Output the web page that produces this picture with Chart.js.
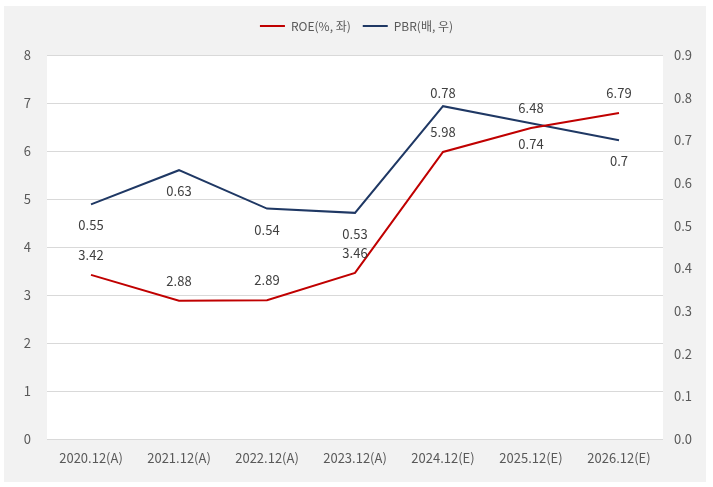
<!DOCTYPE html>
<html>
<head>
<meta charset="utf-8">
<script src="https://cdn.jsdelivr.net/npm/chart.js@4"></script>
<style>
body { margin: 0; background: #fff; }
#wrap { width: 713px; height: 487px; }
</style>
</head>
<body>
<div id="wrap"><canvas id="lineChart" width="713" height="487"></canvas></div>
<script>
var categorias = ['2020.12(A)', '2021.12(A)', '2022.12(A)', '2023.12(A)', '2024.12(E)', '2025.12(E)', '2026.12(E)'];
var roe = [3.42, 2.88, 2.89, 3.46, 5.98, 6.48, 6.79];
var pbr = [0.55, 0.63, 0.54, 0.53, 0.78, 0.74, 0.70];
var ticksEsquerda = [0, 1, 2, 3, 4, 5, 6, 7, 8];
var ticksDireita = [0, 0.1, 0.2, 0.3, 0.4, 0.5, 0.6, 0.7, 0.8, 0.9];

// onde fica o rótulo de cada ponto (acima / abaixo)
var posRoe = ['acima', 'acima', 'acima', 'acima', 'acima', 'acima', 'acima'];
var posPbr = ['abaixo', 'abaixo', 'abaixo', 'abaixo', 'acima', 'abaixo', 'abaixo'];

var fonte = "'Noto Sans CJK KR', 'Noto Sans', sans-serif";
var corTexto = '#595959';

// fundo cinza e área do gráfico branca
const fundo = {
    id: 'fundo',
    beforeDraw: function (chart) {
        const ctx = chart.ctx;
        const a = chart.chartArea;
        ctx.save();
        ctx.fillStyle = '#ffffff';
        ctx.fillRect(0, 0, chart.width, chart.height);
        ctx.fillStyle = '#f2f2f2';
        ctx.fillRect(4, 6, 702, 476);
        ctx.fillStyle = '#ffffff';
        ctx.fillRect(a.left, a.top, a.right - a.left, a.bottom - a.top);
        ctx.restore();
    }
};

// legenda mais alta, para a área começar mais abaixo
const alturaLegenda = {
    id: 'alturaLegenda',
    afterInit: function (chart) {
        const leg = chart.legend;
        if (!leg) return;
        const fitOrig = leg.fit.bind(leg);
        leg.fit = function () {
            fitOrig();
            leg.height = 47;
        };
    }
};

// rótulos de valor
const rotulos = {
    id: 'rotulos',
    afterDatasetsDraw: function (chart) {
        const ctx = chart.ctx;
        ctx.save();
        ctx.font = '13px ' + fonte;
        ctx.fillStyle = '#404040';
        ctx.textAlign = 'center';
        ctx.textBaseline = 'middle';
        chart.data.datasets.forEach(function (ds, i) {
            const meta = chart.getDatasetMeta(i);
            const pos = i === 0 ? posRoe : posPbr;
            meta.data.forEach(function (p, j) {
                var dy;
                if (pos[j] === 'acima') {
                    dy = i === 0 ? -20 : -13;
                } else {
                    dy = 21;
                }
                ctx.fillText(String(ds.data[j]), p.x, p.y + dy);
            });
        });
        ctx.restore();
    }
};

const config = {
    type: 'line',
    data: {
        labels: categorias,
        datasets: [{
            label: 'ROE(%, 좌)',
            data: roe,
            borderColor: '#c00000',
            backgroundColor: '#c00000',
            borderWidth: 2,
            pointRadius: 0,
            tension: 0,
            yAxisID: 'y'
        }, {
            label: 'PBR(배, 우)',
            data: pbr,
            borderColor: '#1f3864',
            backgroundColor: '#1f3864',
            borderWidth: 2,
            pointRadius: 0,
            tension: 0,
            yAxisID: 'y1'
        }]
    },
    options: {
        responsive: false,
        animation: false,
        layout: { padding: { top: 8, left: 0, right: 0, bottom: 0 } },
        plugins: {
            legend: {
                position: 'top',
                labels: {
                    usePointStyle: true,
                    pointStyle: 'line',
                    pointStyleWidth: 25,
                    boxWidth: 25,
                    padding: 12,
                    color: corTexto,
                    font: { family: fonte, size: 12 }
                }
            },
            tooltip: { enabled: false }
        },
        scales: {
            x: {
                offset: true,
                grid: { display: false, drawTicks: false, offset: true },
                border: { display: false },
                ticks: {
                    color: corTexto,
                    padding: 11,
                    maxRotation: 0,
                    font: { family: fonte, size: 13 }
                },
                afterFit: function (s) { s.height = 48; }
            },
            y: {
                position: 'left',
                min: 0,
                max: 8,
                afterBuildTicks: function (s) {
                    s.ticks = ticksEsquerda.map(function (v) { return { value: v }; });
                },
                grid: { color: '#d9d9d9', drawTicks: false },
                border: { display: false },
                ticks: {
                    color: corTexto,
                    padding: 16,
                    font: { family: fonte, size: 13 }
                },
                afterFit: function (s) { s.width = 47; }
            },
            y1: {
                position: 'right',
                min: 0,
                max: 0.9,
                afterBuildTicks: function (s) {
                    s.ticks = ticksDireita.map(function (v) { return { value: v }; });
                },
                grid: { display: false, drawTicks: false },
                border: { display: false },
                ticks: {
                    color: corTexto,
                    padding: 11,
                    font: { family: fonte, size: 13 },
                    callback: function (v) { return Number(v).toFixed(1); }
                },
                afterFit: function (s) { s.width = 50; }
            }
        }
    },
    plugins: [fundo, alturaLegenda, rotulos]
};

const ctx = document.getElementById('lineChart').getContext('2d');
const grafico = new Chart(ctx, config);
</script>
</body>
</html>
